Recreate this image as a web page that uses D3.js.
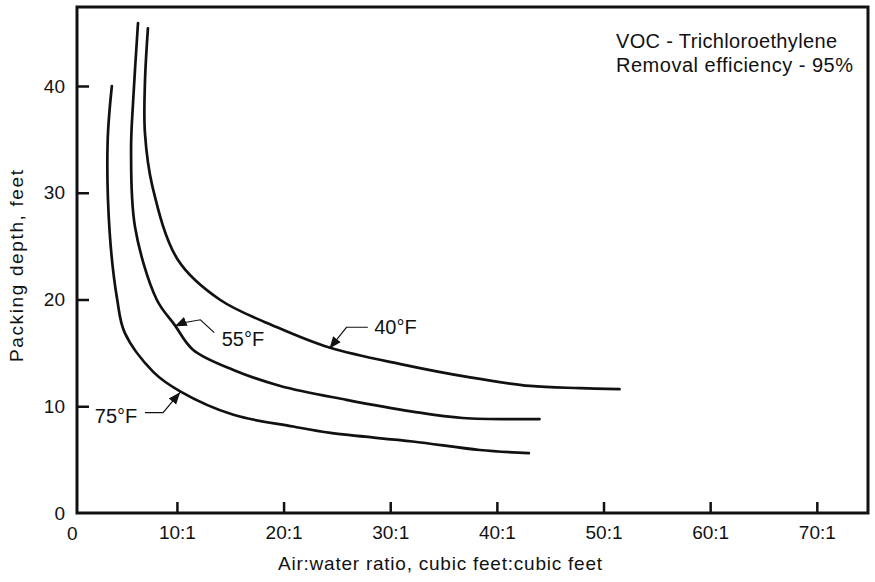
<!DOCTYPE html>
<html><head><meta charset="utf-8">
<script src="https://cdn.jsdelivr.net/npm/d3@7"></script>
<style>
body{margin:0;background:#fff;}
svg text{font-family:"Liberation Sans",Arial,Helvetica,sans-serif;fill:#111;}
</style></head>
<body><svg id="c" width="875" height="582"></svg>
<script>
const xTicks = [10,20,30,40,50,60,70];
const xTickLabels = ["10:1","20:1","30:1","40:1","50:1","60:1","70:1"];
const yTicks = [0,10,20,30,40];
const curve40 = [[7.28,45.4],[7.0,40.3],[7.0,35.6],[7.7,30.6],[10.1,23.7],[14.0,20.0],[19.4,17.4],[24.3,15.5],[31.2,13.9],[37.5,12.7],[43.1,11.9],[47.8,11.7],[51.5,11.6]];
const curve55 = [[6.35,45.9],[5.9,38.7],[5.7,34.0],[6.07,26.8],[8.1,20.0],[9.8,17.6],[11.5,15.3],[15.3,13.4],[19.7,11.9],[25.9,10.6],[32.1,9.5],[36.8,8.9],[44.0,8.8]];
const curve75 = [[3.9,40.0],[3.5,34.7],[3.7,26.2],[4.4,20.0],[5.1,16.9],[7.8,13.2],[10.3,11.4],[15.3,9.2],[20.9,8.1],[24.4,7.5],[32.1,6.7],[38.4,5.9],[43.0,5.6]];
const seriesNames = ["40°F","55°F","75°F"];
const noteLines = ["VOC - Trichloroethylene","Removal efficiency - 95%"];

const svg = d3.select("#c");
const L=77, R=868, T=7, B=513;
const x = d3.scaleLinear().domain([0.63,74.8]).range([L,R]);
const y = d3.scaleLinear().domain([0,47.4]).range([B,T]);

svg.append("defs").append("marker").attr("id","arr").attr("viewBox","0 0 10 10")
  .attr("refX",10).attr("refY",5).attr("markerWidth",12).attr("markerHeight",12)
  .attr("markerUnits","userSpaceOnUse").attr("orient","auto")
  .append("path").attr("d","M0,1 L10,5 L0,9 Z").attr("fill","#111");

// axes
const xa = svg.append("g").attr("transform",`translate(0,${B})`)
  .call(d3.axisBottom(x).tickValues(xTicks).tickFormat((d,i)=>xTickLabels[i]).tickSizeInner(-11).tickSizeOuter(0).tickPadding(13));
const ya = svg.append("g").attr("transform",`translate(${L},0)`)
  .call(d3.axisLeft(y).tickValues(yTicks).tickSizeInner(-12).tickSizeOuter(0).tickPadding(12));
[xa,ya].forEach(g=>{
  g.select(".domain").remove();
  g.selectAll(".tick line").attr("stroke","#111").attr("stroke-width",2.5);
  g.selectAll(".tick text").attr("font-size",19).attr("fill","#111");
});
ya.selectAll(".tick").filter(d=>d===0).select("line").remove();
svg.append("text").attr("x",x(0)+2).attr("y",B+27).attr("text-anchor","middle").attr("font-size",19).text("0");

// frame
svg.append("rect").attr("x",L).attr("y",T).attr("width",R-L).attr("height",B-T)
  .attr("fill","none").attr("stroke","#111").attr("stroke-width",3);

// curves
const line = d3.line().x(d=>x(d[0])).y(d=>y(d[1])).curve(d3.curveCatmullRom.alpha(0.5));
[curve40,curve55,curve75].forEach(c=>{
  svg.append("path").attr("d",line(c)).attr("fill","none").attr("stroke","#111").attr("stroke-width",2.7).attr("stroke-linecap","round");
});

// labels with leaders (positions in data units)
function leader(pts){
  svg.append("path").attr("d",d3.line().x(d=>x(d[0])).y(d=>y(d[1]))(pts))
    .attr("fill","none").attr("stroke","#111").attr("stroke-width",1.2).attr("marker-end","url(#arr)");
}
leader([[27.9,17.4],[25.9,17.4],[24.3,15.4]]);
svg.append("text").attr("x",x(28.5)).attr("y",y(16.8)).attr("font-size",20).text(seriesNames[0]);
leader([[13.5,16.9],[12.2,18.1],[10.5,17.8],[9.8,17.5]]);
svg.append("text").attr("x",x(14.2)).attr("y",y(15.6)).attr("font-size",20).text(seriesNames[1]);
leader([[7.0,9.4],[8.7,9.4],[10.3,11.3]]);
svg.append("text").attr("x",x(2.3)).attr("y",y(8.4)).attr("font-size",20).text(seriesNames[2]);

// note
const noteW=[221,237];
noteLines.forEach((t,i)=>svg.append("text").attr("x",616).attr("y",48+i*24).attr("font-size",20)
  .attr("textLength",noteW[i]).attr("lengthAdjust","spacing").text(t));

// axis titles
svg.append("text").attr("x",278).attr("y",570).attr("font-size",19)
  .attr("textLength",324).attr("lengthAdjust","spacing").text("Air:water ratio, cubic feet:cubic feet");
svg.append("text").attr("transform","translate(23,362) rotate(-90)").attr("font-size",19)
  .attr("textLength",192).attr("lengthAdjust","spacing").text("Packing depth, feet");
</script></body></html>
